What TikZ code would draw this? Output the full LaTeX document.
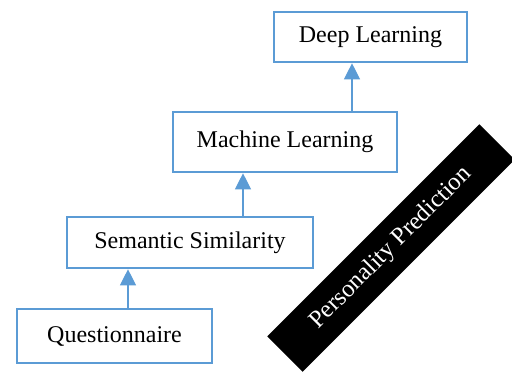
\documentclass[tikz,border=0pt]{standalone}
\usepackage{fontspec}
\setmainfont{Liberation Serif}
\usetikzlibrary{arrows.meta}
\definecolor{boxblue}{RGB}{91,155,213}
\begin{document}
\begin{tikzpicture}[x=0.5pt,y=-0.5pt,
  stagebox/.style={draw=boxblue,line width=1.3pt,fill=white,inner sep=0pt,font=\fontsize{12pt}{14pt}\selectfont},
  link/.style={draw=boxblue,line width=0.6pt,-{Triangle[width=8pt,length=8pt]}}]
\useasboundingbox (0,0) rectangle (512,372);
\begin{scope}
\clip (0,0) rectangle (512,372);
\node[fill=black,rotate=45,minimum width=150pt,minimum height=25pt,inner sep=0pt,
      text=white,font=\fontsize{12.3pt}{14pt}\selectfont] (band) at (391,248) {Personality Prediction};
\end{scope}
\node[stagebox,minimum width=96.5pt,minimum height=25pt] (dl) at (370.5,37) {Deep Learning};
\node[stagebox,minimum width=112pt,minimum height=30pt] (ml) at (285,142) {Machine Learning};
\node[stagebox,minimum width=123pt,minimum height=25.5pt] (ss) at (190,242.5) {Semantic Similarity};
\node[stagebox,minimum width=97.5pt,minimum height=27pt] (q) at (114.5,336) {Questionnaire};
\coordinate (a1) at (352,0);
\draw[link] (ml.north -| a1) -- (dl.south -| a1);
\coordinate (a2) at (243,0);
\draw[link] (ss.north -| a2) -- (ml.south -| a2);
\coordinate (a3) at (128,0);
\draw[link] (q.north -| a3) -- (ss.south -| a3);
\end{tikzpicture}
\end{document}
